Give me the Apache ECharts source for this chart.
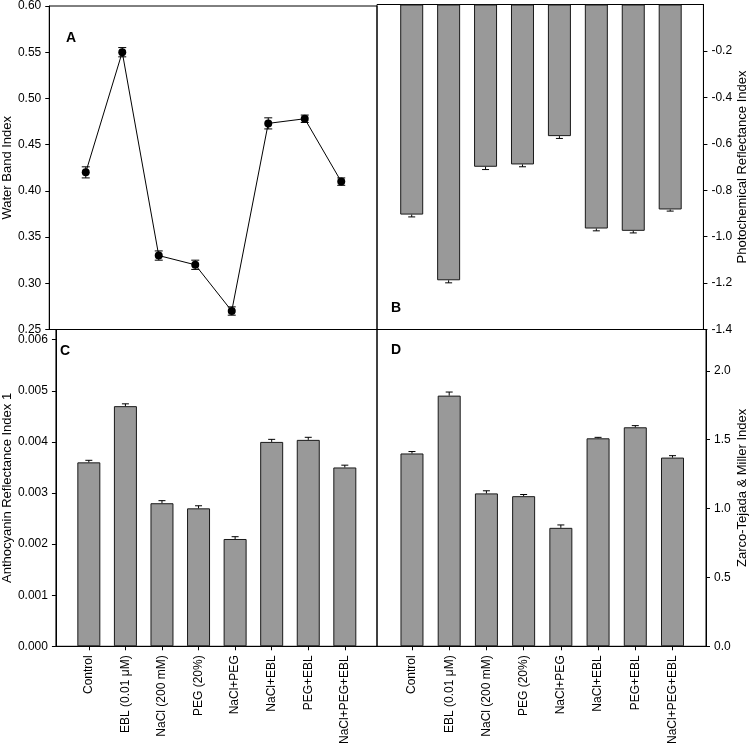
<!DOCTYPE html>
<html>
<head>
<meta charset="utf-8">
<script src="https://cdn.jsdelivr.net/npm/echarts@6/dist/echarts.min.js"></script>
<style>
  html, body { margin: 0; padding: 0; background: #fff; }
  #main { width: 750px; height: 747px; }
</style>
</head>
<body>
<div id="main"></div>
<script>
// 处理组
var categories = ['Control', 'EBL (0.01 μM)', 'NaCl (200 mM)', 'PEG (20%)', 'NaCl+PEG', 'NaCl+EBL', 'PEG+EBL', 'NaCl+PEG+EBL']

// A - Water Band Index
var wbiValues = [0.420, 0.550, 0.330, 0.320, 0.270, 0.473, 0.478, 0.410]
var wbiErrors = [0.006, 0.005, 0.005, 0.005, 0.0045, 0.006, 0.004, 0.004]
var wbiTicks = [0.25, 0.30, 0.35, 0.40, 0.45, 0.50, 0.55, 0.60]

// B - Photochemical Reflectance Index
var priValues = [-0.905, -1.188, -0.699, -0.689, -0.567, -0.965, -0.975, -0.883]
var priErrors = [0.010, 0.011, 0.012, 0.010, 0.010, 0.010, 0.009, 0.007]
var priTicks = [-1.4, -1.2, -1.0, -0.8, -0.6, -0.4, -0.2]

// C - Anthocyanin Reflectance Index 1
var ariValues = [0.0036, 0.0047, 0.0028, 0.0027, 0.0021, 0.0040, 0.00404, 0.0035]
var ariErrors = [0.00004, 0.000045, 0.00005, 0.00005, 0.000045, 0.00005, 0.00005, 0.000045]
var ariTicks = [0, 0.001, 0.002, 0.003, 0.004, 0.005, 0.006]

// D - Zarco-Tejada & Miller Index
var ztmValues = [1.40, 1.82, 1.11, 1.09, 0.86, 1.51, 1.59, 1.37]
var ztmErrors = [0.014, 0.026, 0.019, 0.012, 0.021, 0.007, 0.012, 0.014]
var ztmTicks = [0, 0.5, 1.0, 1.5, 2.0]

var FONT = 'Liberation Sans, Arial, sans-serif'
var catIndex = categories.map(function (c, i) { return i })

var chartDom = document.getElementById('main')
var myChart = echarts.init(chartDom)

// 误差线数据 [x, lo, hi, capLo, capHi]
function errData(values, errors, mode) {
    return values.map(function (v, i) {
        var e = errors[i]
        if (mode === 'both') return [i, v - e, v + e, 1, 1]
        if (v >= 0) return [i, v, v + e, 0, 1]
        return [i, v - e, v, 1, 0]
    })
}

function renderErr(capW) {
    return function (params, api) {
        var x = api.value(0)
        var p1 = api.coord([x, api.value(1)])
        var p2 = api.coord([x, api.value(2)])
        var style = { stroke: '#000', lineWidth: 1 }
        var children = [{ type: 'line', shape: { x1: p1[0], y1: p1[1], x2: p2[0], y2: p2[1] }, style: style }]
        if (api.value(3)) children.push({ type: 'line', shape: { x1: p1[0] - capW, y1: p1[1], x2: p1[0] + capW, y2: p1[1] }, style: style })
        if (api.value(4)) children.push({ type: 'line', shape: { x1: p2[0] - capW, y1: p2[1], x2: p2[0] + capW, y2: p2[1] }, style: style })
        return { type: 'group', children: children }
    }
}

function xAxisOf(gridIndex, min, max, showLabels) {
    return {
        type: 'value',
        gridIndex: gridIndex,
        position: 'bottom',
        min: min,
        max: max,
        splitLine: { show: false },
        axisLine: { show: true, onZero: false, lineStyle: { color: '#000', width: 1 } },
        axisTick: showLabels ? { show: true, customValues: catIndex, length: 4, lineStyle: { color: '#000' } } : { show: false },
        axisLabel: showLabels ? {
            show: true,
            customValues: catIndex,
            rotate: 90,
            margin: 9,
            fontSize: 12,
            fontFamily: FONT,
            color: '#000',
            formatter: function (v) { return categories[Math.round(v)] }
        } : { show: false }
    }
}

function yAxisOf(gridIndex, min, max, ticks, digits, name, position, nameGap) {
    return {
        type: 'value',
        gridIndex: gridIndex,
        position: position,
        min: min,
        max: max,
        name: name,
        nameLocation: 'middle',
        nameGap: nameGap,
        nameTextStyle: { fontSize: 13, fontFamily: FONT, color: '#000' },
        splitLine: { show: false },
        axisLine: { show: true, onZero: false, lineStyle: { color: '#000', width: 1 } },
        axisTick: { show: true, customValues: ticks, length: 4, lineStyle: { color: '#000' } },
        axisLabel: {
            show: true,
            customValues: ticks,
            margin: 8,
            fontSize: 12,
            fontFamily: FONT,
            color: '#000',
            formatter: function (v) { return v.toFixed(digits) }
        }
    }
}

function barSeries(idx, values) {
    return {
        type: 'bar',
        xAxisIndex: idx,
        yAxisIndex: idx,
        barWidth: 23,
        itemStyle: { color: '#999999', borderColor: '#1a1a1a', borderWidth: 1 },
        data: values.map(function (v, i) { return [i, v] })
    }
}

function errSeries(idx, values, errors, mode, capW) {
    return {
        type: 'custom',
        xAxisIndex: idx,
        yAxisIndex: idx,
        z: 5,
        renderItem: renderErr(capW),
        encode: { x: 0, y: [1, 2] },
        data: errData(values, errors, mode)
    }
}

var gridStyle = { show: true, borderColor: '#000', borderWidth: 1, backgroundColor: 'transparent' }

var option = {
    animation: false,
    grid: [
        Object.assign({ left: 49, top: 4.5, width: 328, height: 325 }, gridStyle),
        Object.assign({ left: 377, top: 4.5, width: 330, height: 325 }, gridStyle),
        Object.assign({ left: 49, top: 329.5, width: 328, height: 324 }, gridStyle),
        Object.assign({ left: 377, top: 329.5, width: 330, height: 324 }, gridStyle)
    ],
    xAxis: [
        xAxisOf(0, -1.0, 7.98, false),
        xAxisOf(1, -0.94, 7.9, false),
        xAxisOf(2, -0.9, 7.88, true),
        xAxisOf(3, -0.94, 7.9, true)
    ],
    yAxis: [
        yAxisOf(0, 0.25, 0.60, wbiTicks, 2, 'Water Band Index', 'left', 28),
        yAxisOf(1, -1.4, 0, priTicks, 1, 'Photochemical Reflectance Index', 'right', 30),
        yAxisOf(2, 0, 0.0062, ariTicks, 3, 'Anthocyanin Reflectance Index 1', 'left', 35),
        yAxisOf(3, 0, 2.3, ztmTicks, 1, 'Zarco-Tejada & Miller Index', 'right', 30)
    ],
    graphic: [
        { type: 'text', left: 66, top: 31, style: { text: 'A', font: 'bold 14px ' + FONT, fill: '#000' } },
        { type: 'text', left: 391, top: 301, style: { text: 'B', font: 'bold 14px ' + FONT, fill: '#000' } },
        { type: 'text', left: 60, top: 344, style: { text: 'C', font: 'bold 14px ' + FONT, fill: '#000' } },
        { type: 'text', left: 391, top: 343, style: { text: 'D', font: 'bold 14px ' + FONT, fill: '#000' } }
    ],
    series: [
        errSeries(0, wbiValues, wbiErrors, 'both', 4),
        {
            type: 'line',
            xAxisIndex: 0,
            yAxisIndex: 0,
            symbol: 'circle',
            symbolSize: 8,
            itemStyle: { color: '#000' },
            lineStyle: { color: '#000', width: 1 },
            data: wbiValues.map(function (v, i) { return [i, v] })
        },
        barSeries(1, priValues),
        errSeries(1, priValues, priErrors, 'bar', 3.5),
        barSeries(2, ariValues),
        errSeries(2, ariValues, ariErrors, 'bar', 3.5),
        barSeries(3, ztmValues),
        errSeries(3, ztmValues, ztmErrors, 'bar', 3.5)
    ]
}

myChart.setOption(option)
</script>
</body>
</html>
